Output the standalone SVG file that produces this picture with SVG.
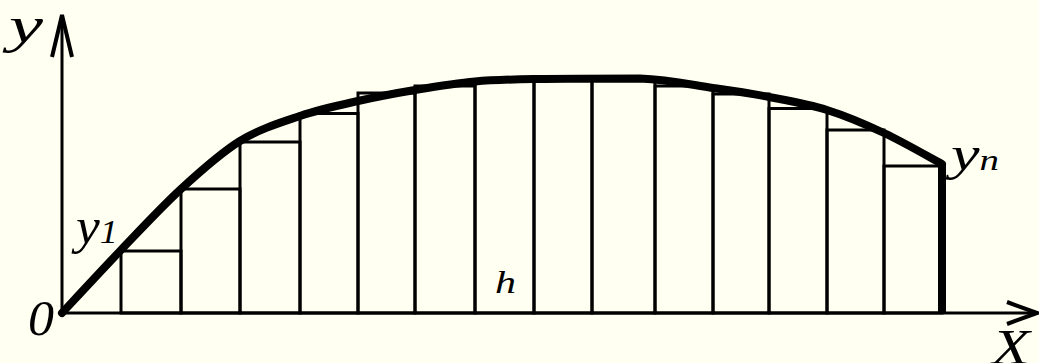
<svg xmlns="http://www.w3.org/2000/svg" width="1039" height="363" viewBox="0 0 1039 363">
<style>
.ax{stroke:#000;stroke-width:3;fill:none}
.ah{stroke:#000;stroke-width:4;fill:none;stroke-linejoin:miter}
.rc{stroke:#000;stroke-width:3;fill:none}
.cv{stroke:#000;stroke-width:8;fill:none;stroke-linecap:round;stroke-linejoin:round}
.lb{font-family:"Liberation Serif","Times New Roman",serif;font-style:italic;fill:#000}
</style>
<rect x="0" y="0" width="1039" height="363" fill="#FFFFF2"/>
<g id="axes">
<line class="ax" x1="62" y1="313" x2="62" y2="16"/>
<polyline class="ah" points="52,57 62,15 72,57"/>
<line class="ax" x1="62" y1="313" x2="1036" y2="313"/>
<polyline class="ah" points="1007,302 1037,313 1007,324"/>
</g>
<g id="rectangles">
<rect class="rc" x="121" y="251" width="60" height="62"/>
<rect class="rc" x="181" y="189" width="59" height="124"/>
<rect class="rc" x="240" y="142" width="60" height="171"/>
<rect class="rc" x="300" y="113.5" width="58" height="199.5"/>
<rect class="rc" x="358" y="93" width="57" height="220"/>
<rect class="rc" x="415" y="86" width="60" height="227"/>
<rect class="rc" x="475" y="81" width="59" height="232"/>
<rect class="rc" x="534" y="80" width="58" height="233"/>
<rect class="rc" x="592" y="80" width="63" height="233"/>
<rect class="rc" x="655" y="86" width="58" height="227"/>
<rect class="rc" x="713" y="94" width="56" height="219"/>
<rect class="rc" x="769" y="108.5" width="58" height="204.5"/>
<rect class="rc" x="827" y="130" width="57" height="183"/>
<rect class="rc" x="884" y="166" width="58" height="147"/>
</g>
<g id="curve">
<path class="cv" d="M62,313 C71.8,302.5 101.2,270.7 121,250 C140.8,229.3 161.2,207.2 181,189 C200.8,170.8 220.2,153.2 240,141 C259.8,128.8 280.3,122.7 300,116 C319.7,109.3 338.8,105.3 358,101 C377.2,96.7 395.5,93.25 415,90 C434.5,86.75 455,83.3 475,81.5 C495,79.7 507.5,79.5 535,79 C570,78.5 610,78.5 640,78.5 C669.7,79.5 691.5,84.9 713,88 C734.5,91.1 750,93.3 769,97 C788,100.7 807.8,104 827,110 C846.2,116 864.8,124 884,133 C903.2,142 932.3,158.8 942,164"/>
<line x1="942" y1="164" x2="942" y2="313" stroke="#000" stroke-width="8"/>
</g>
<g id="labels">
<text class="lb" x="9" y="42" font-size="50" textLength="34" lengthAdjust="spacingAndGlyphs">y</text>
<text class="lb" x="28" y="335" font-size="51" textLength="26" lengthAdjust="spacingAndGlyphs">0</text>
<text class="lb" x="76" y="243" font-size="50" textLength="42" lengthAdjust="spacingAndGlyphs">y<tspan font-size="34">1</tspan></text>
<text class="lb" x="951" y="170" font-size="48" textLength="48" lengthAdjust="spacingAndGlyphs">y<tspan font-size="29">n</tspan></text>
<text class="lb" x="495" y="293" font-size="32" textLength="21" lengthAdjust="spacingAndGlyphs">h</text>
<text class="lb" x="992" y="364" font-size="50" textLength="38" lengthAdjust="spacingAndGlyphs">X</text>
</g>
</svg>
